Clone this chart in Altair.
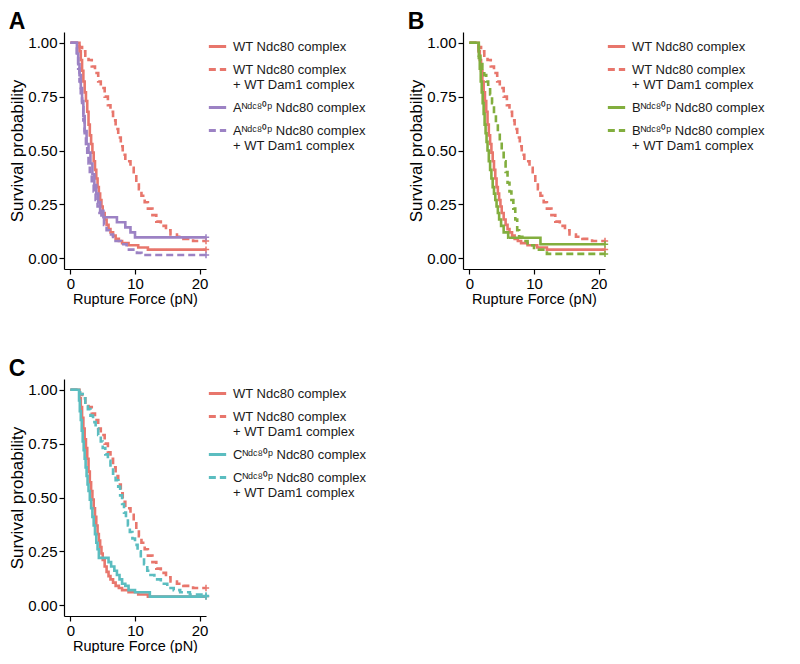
import altair as alt
import pandas as pd

# ---------------- data ----------------
RED = "#E8766C"
PURPLE = "#9C82C4"
GREEN = "#82AE3E"
TEAL = "#5BBDC0"

SUP = "\u1D3A\u1D48\u1D9C\u2078\u2070\u1D56"  # "Ndc80p" as superscript letters

lab_wt = "WT Ndc80 complex"
lab_wt_dam = "WT Ndc80 complex| + WT Dam1 complex"
lab_a = "A" + SUP + " Ndc80 complex"
lab_a_dam = "A" + SUP + " Ndc80 complex| + WT Dam1 complex"
lab_b = "B" + SUP + " Ndc80 complex"
lab_b_dam = "B" + SUP + " Ndc80 complex| + WT Dam1 complex"
lab_c = "C" + SUP + " Ndc80 complex"
lab_c_dam = "C" + SUP + " Ndc80 complex| + WT Dam1 complex"

wt_x = [0, 1.4, 1.6, 1.8, 2.0, 2.2, 2.4, 2.6, 2.8, 3.0, 3.2, 3.4, 3.6, 3.8, 4.0, 4.2, 4.4, 4.6, 4.8, 5.0,
        5.3, 5.6, 5.9, 6.2, 6.6, 7.0, 7.5, 8.0, 9.0, 10.5, 12.0, 21]
wt_y = [1.0, 0.96, 0.92, 0.87, 0.82, 0.77, 0.73, 0.68, 0.62, 0.57, 0.53, 0.49, 0.45, 0.41, 0.37, 0.33, 0.30,
        0.27, 0.24, 0.21, 0.18, 0.155, 0.135, 0.12, 0.105, 0.09, 0.08, 0.07, 0.06, 0.05, 0.04, 0.04]

wtd_x = [0, 1.4, 1.8, 2.3, 2.8, 3.3, 3.8, 4.3, 4.7, 5.3, 5.8, 6.2, 6.6, 7.0, 7.4, 7.8, 8.1, 8.5, 9.3, 9.8,
         10.2, 10.6, 11.0, 11.5, 12.0, 12.7, 13.3, 14.0, 14.8, 15.5, 16.5, 17.5, 19.0, 21]
wtd_y = [1.0, 0.98, 0.96, 0.94, 0.92, 0.89, 0.86, 0.82, 0.79, 0.75, 0.71, 0.68, 0.64, 0.60, 0.56, 0.52, 0.48,
         0.45, 0.42, 0.39, 0.35, 0.32, 0.29, 0.26, 0.23, 0.20, 0.17, 0.15, 0.13, 0.11, 0.10, 0.09, 0.08, 0.08]

a_x = [0, 1.0, 1.2, 1.4, 1.6, 1.8, 2.0, 2.2, 2.5, 2.8, 3.1, 3.4, 3.7, 4.0, 4.3, 4.6, 5.1, 7.2, 8.5, 9.3,
       10.0, 21]
a_y = [1.0, 0.95, 0.90, 0.85, 0.79, 0.73, 0.66, 0.59, 0.53, 0.49, 0.44, 0.39, 0.34, 0.30, 0.26, 0.22, 0.19,
       0.167, 0.143, 0.12, 0.097, 0.097]

ad_x = [0, 1.0, 1.2, 1.4, 1.6, 1.8, 2.0, 2.2, 2.4, 2.6, 2.8, 3.0, 3.3, 3.6, 3.9, 4.2, 4.5, 4.8, 5.2, 5.6,
        6.0, 6.6, 7.8, 8.7, 10.3, 11.0, 21]
ad_y = [1.0, 0.94, 0.88, 0.82, 0.76, 0.70, 0.64, 0.58, 0.53, 0.48, 0.44, 0.40, 0.35, 0.31, 0.27, 0.24, 0.21,
        0.18, 0.155, 0.13, 0.11, 0.08, 0.065, 0.04, 0.025, 0.015, 0.015]

b_x = [0, 1.45, 1.6, 1.75, 1.9, 2.05, 2.2, 2.35, 2.5, 2.65, 2.8, 3.0, 3.2, 3.4, 3.6, 3.8, 4.0, 4.2, 4.4,
       4.6, 4.9, 5.3, 6.0, 11.0, 21]
b_y = [1.0, 0.93, 0.88, 0.82, 0.77, 0.72, 0.67, 0.62, 0.58, 0.54, 0.50, 0.45, 0.41, 0.37, 0.33, 0.30, 0.27,
       0.24, 0.21, 0.18, 0.15, 0.12, 0.095, 0.065, 0.065]

bd_x = [0, 1.45, 1.7, 2.0, 2.3, 2.6, 2.9, 3.2, 3.5, 3.8, 4.1, 4.4, 4.7, 5.0, 5.3, 5.6, 5.9, 6.2, 6.5, 6.8,
        7.1, 7.4, 7.7, 8.2, 9.0, 10.0, 12.0, 21]
bd_y = [1.0, 0.94, 0.91, 0.88, 0.85, 0.82, 0.79, 0.76, 0.72, 0.67, 0.63, 0.58, 0.54, 0.50, 0.45, 0.40, 0.35,
        0.31, 0.27, 0.23, 0.18, 0.13, 0.10, 0.08, 0.06, 0.04, 0.02, 0.02]

c_x = [0, 1.33, 1.45, 1.6, 1.75, 1.9, 2.05, 2.2, 2.35, 2.5, 2.65, 2.8, 3.0, 3.2, 3.4, 3.6, 3.8, 4.0, 4.2,
       4.4, 5.9, 6.3, 6.8, 7.2, 7.6, 8.0, 8.5, 9.0, 10.0, 12.3, 21]
c_y = [1.0, 0.95, 0.90, 0.86, 0.81, 0.76, 0.72, 0.68, 0.64, 0.60, 0.56, 0.53, 0.49, 0.45, 0.41, 0.37, 0.33,
       0.29, 0.26, 0.22, 0.20, 0.18, 0.16, 0.14, 0.12, 0.10, 0.09, 0.07, 0.06, 0.04, 0.04]

cd_x = [0, 1.5, 1.9, 2.3, 2.7, 3.1, 3.5, 3.9, 4.3, 4.7, 5.0, 5.4, 5.8, 6.2, 6.6, 7.0, 7.4, 7.7, 8.0, 8.3,
        8.6, 8.9, 9.2, 9.6, 10.0, 10.4, 10.9, 11.4, 11.9, 12.4, 13.0, 14.0, 15.0, 16.0, 17.0, 18.5, 21]
cd_y = [1.0, 0.98, 0.96, 0.94, 0.91, 0.88, 0.85, 0.82, 0.79, 0.76, 0.73, 0.70, 0.67, 0.64, 0.61, 0.58, 0.55,
        0.51, 0.47, 0.43, 0.40, 0.37, 0.34, 0.31, 0.28, 0.25, 0.22, 0.19, 0.16, 0.14, 0.12, 0.10, 0.08, 0.07,
        0.06, 0.05, 0.045]

x_ticks = [0, 5, 10, 15, 20]
y_ticks = [0, 0.25, 0.5, 0.75, 1.0]

FONT = "Liberation Sans"
PW, PH = 142, 237


def panel(letter, curves, color_mut):
    rows = []
    labels = []
    for lab, xs, ys in curves:
        labels.append(lab)
        for x, y in zip(xs, ys):
            rows.append({"force": x, "surv": y, "series": lab})
    df = pd.DataFrame(rows)
    last = pd.DataFrame([{"force": xs[-1], "surv": ys[-1], "series": lab} for lab, xs, ys in curves])

    color_scale = alt.Scale(domain=labels, range=[RED, RED, color_mut, color_mut])
    dash_scale = alt.Scale(domain=labels, range=[[1, 0], [7, 4], [1, 0], [7, 4]])
    leg = alt.Legend(title=None, orient="none", legendX=PW + 1, legendY=4,
                     symbolType="stroke", symbolSize=300,
                     symbolStrokeWidth=2.8, labelExpr="split(datum.label, '|')",
                     labelFontSize=13, labelFont=FONT, labelColor="#1a1a1a", labelLimit=400,
                     rowPadding=5, labelOffset=5, padding=0)

    xenc = alt.X("force:Q", title="Rupture Force (pN)",
                 scale=alt.Scale(domain=[-1, 21], nice=False, zero=False),
                 axis=alt.Axis(values=x_ticks, format="d", titleFontSize=14.5, titlePadding=1))
    yenc = alt.Y("surv:Q", title="Survival probability",
                 scale=alt.Scale(domain=[-0.05, 1.05], nice=False, zero=False),
                 axis=alt.Axis(values=y_ticks, format=".2f", titleFontSize=17, titlePadding=1))

    lines = alt.Chart(df).mark_line(interpolate="step-after", strokeWidth=2.6, clip=True).encode(
        x=xenc, y=yenc,
        color=alt.Color("series:N", scale=color_scale, legend=leg),
        strokeDash=alt.StrokeDash("series:N", scale=dash_scale, legend=leg),
    )
    cens = alt.Chart(last).mark_point(shape="M-1,0L1,0M0,-1L0,1", size=40, filled=False,
                                      strokeWidth=1.5, opacity=1).encode(
        x=alt.X("force:Q"), y=alt.Y("surv:Q"),
        color=alt.Color("series:N", scale=color_scale, legend=None),
    )
    return alt.layer(lines, cens).properties(
        width=PW, height=PH,
        title=alt.TitleParams(text=letter, anchor="start", frame="bounds", fontSize=23,
                              fontWeight="bold", font=FONT, color="black", offset=-2),
    )


pA = panel("A", [(lab_wt, wt_x, wt_y), (lab_wt_dam, wtd_x, wtd_y),
                 (lab_a, a_x, a_y), (lab_a_dam, ad_x, ad_y)], PURPLE)
pB = panel("B", [(lab_wt, wt_x, wt_y), (lab_wt_dam, wtd_x, wtd_y),
                 (lab_b, b_x, b_y), (lab_b_dam, bd_x, bd_y)], GREEN)
pC = panel("C", [(lab_wt, wt_x, wt_y), (lab_wt_dam, wtd_x, wtd_y),
                 (lab_c, c_x, c_y), (lab_c_dam, cd_x, cd_y)], TEAL)

top = alt.hconcat(pA, pB, spacing=41).resolve_scale(
    color="independent", strokeDash="independent", x="independent", y="independent"
).resolve_legend(color="independent", strokeDash="independent")

chart = alt.vconcat(top, pC, spacing=52, background="white",
                    padding={"top": 3, "left": 0, "right": 0, "bottom": 0}).resolve_scale(
    color="independent", strokeDash="independent", x="independent", y="independent"
).resolve_legend(color="independent", strokeDash="independent").configure_axis(
    grid=False, domainColor="black", tickColor="black", labelColor="black", titleColor="black",
    labelFont=FONT, titleFont=FONT, labelFontSize=15, titleFontWeight="normal",
    domainWidth=1.2, tickWidth=1.2, tickSize=5, labelPadding=2,
).configure_view(stroke=None)

chart.save("out.html", embed_options={"renderer": "svg", "actions": False})
